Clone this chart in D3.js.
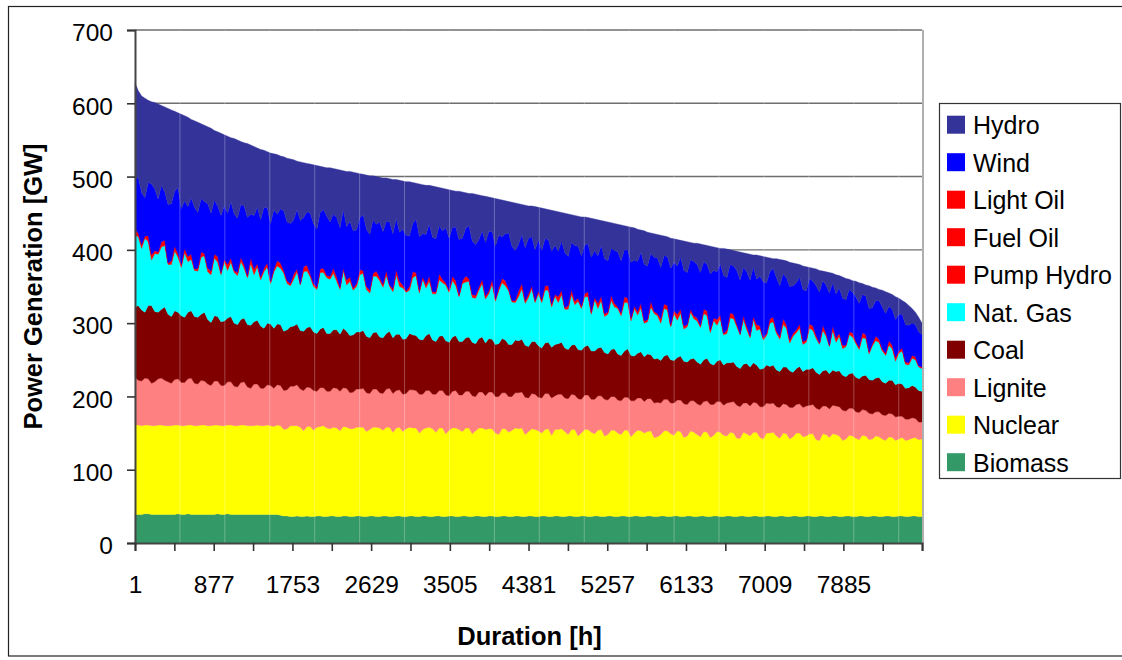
<!DOCTYPE html>
<html>
<head>
<meta charset="utf-8">
<script src="https://cdn.jsdelivr.net/npm/d3@7"></script>
<style>
  html, body { margin: 0; padding: 0; background: #fff; }
  svg { display: block; font-family: "Liberation Sans", Arial, sans-serif; }
</style>
</head>
<body>
<svg id="chart" width="1122" height="660"></svg>
<script>
// Hourly generation by fuel, sorted as a load duration curve (GW), sampled across the year
const seriesNames  = ["Biomass", "Nuclear", "Lignite", "Coal", "Nat. Gas", "Pump Hydro", "Fuel Oil", "Light Oil", "Wind", "Hydro"];
const seriesColors = ["#339966", "#FFFF00", "#FF8080", "#800000", "#00FFFF", "#FF0000", "#FF0000", "#FF0000", "#0000FF", "#333399"];
const legendOrder  = ["Hydro", "Wind", "Light Oil", "Fuel Oil", "Pump Hydro", "Nat. Gas", "Coal", "Lignite", "Nuclear", "Biomass"];

const biomass = [39,39,39,40,40,39,39,39,39,39, 39,39,39,40,39,39,40,39,39,39,
  39,39,39,39,39,40,39,39,40,39, 39,39,39,39,39,39,39,39,39,39,
  39,39,39,39,38,37,37,36,36,37, 36,36,37,36,36,37,37,36,36,37,
  37,36,36,37,37,36,36,37,37,36, 36,37,37,36,36,37,37,36,36,37,
  37,36,36,37,37,36,36,37,37,36, 36,37,37,36,36,37,37,36,36,37,
  37,36,36,37,37,36,36,37,37,36, 36,37,37,36,36,37,37,36,36,37,
  37,36,36,37,37,36,36,37,37,36, 36,37,37,36,36,37,37,36,36,37,
  37,36,36,37,37,36,36,37,37,36, 36,37,37,36,36,37,37,36,36,37,
  37,36,36,37,37,36,36,37,37,36, 36,37,37,36,36,37,37,36,36,37,
  37,36,36,37,37,36,36,37,37,36, 36,37,37,36,36,37,37,36,36,37,
  37,36,36,37,37,36,36,37,37,36, 36,37,37,36,36,37,37,36,36,37,
  37,36,36,37,37,36,36,37,37,36, 36,37,37,36,36,37,37,36,36];

const nuclear = [122,122,121,121,121,121,121,122,122,121, 121,121,122,121,121,121,121,122,121,121,
  122,122,121,121,122,121,121,121,121,122, 121,121,122,122,121,121,121,122,121,121,
  122,121,120,122,122,118,119,124,124,123, 122,117,122,123,118,121,122,124,121,119,
  121,121,117,122,121,120,120,121,121,122, 116,118,121,122,121,117,121,122,115,120,
  121,116,120,121,120,121,114,118,120,122, 120,114,120,121,113,117,120,121,119,115,
  120,121,113,116,120,121,119,119,119,114, 112,119,119,115,118,120,119,121,112,115,
  119,119,117,113,118,120,111,118,118,120, 116,111,118,119,110,113,118,119,115,112,
  117,119,110,111,117,118,114,111,117,118, 109,113,117,117,114,115,116,108,109,111,
  116,117,113,110,116,116,108,109,116,115, 112,108,115,115,108,110,115,115,111,109,
  114,114,107,106,114,113,110,114,114,108, 106,113,113,115,110,106,113,113,106,108,
  113,114,109,109,112,113,105,103,112,112, 108,112,111,110,104,105,110,110,107,104,
  110,110,105,105,109,109,106,103,108,108, 104,105,107,104,105,106,107,105,106];

const lignite = [65,61,61,64,63,58,60,63,64,62, 60,58,62,63,59,59,63,64,58,57,
  61,60,57,55,60,60,55,55,59,59, 54,53,58,59,53,51,57,56,51,51,
  55,55,52,55,55,53,53,54,54,56, 52,55,54,53,54,49,53,52,50,51,
  54,54,54,53,53,49,50,52,52,53, 53,49,52,52,48,50,52,53,53,51,
  51,51,48,51,52,51,53,48,51,50, 47,52,51,51,53,47,50,51,47,50,
  50,50,52,47,49,49,46,50,50,50, 52,49,49,49,46,48,49,49,51,46,
  48,48,46,48,49,48,51,46,48,47, 46,49,48,47,51,46,47,47,45,47,
  47,46,50,47,46,46,45,46,45,45, 49,44,44,45,43,45,44,47,47,43,
  43,43,42,44,42,43,46,43,41,43, 42,43,41,43,45,42,41,42,41,45,
  41,43,45,43,40,42,41,41,40,42, 44,41,40,40,40,42,40,40,43,40,
  39,40,40,41,39,40,43,42,38,39, 39,39,39,40,41,38,37,38,36,37,
  35,35,36,34,33,34,33,34,32,32, 32,31,29,29,28,28,26,24,23];

const coal = [96,102,97,90,100,106,96,91,94,100, 92,91,94,91,91,89,91,92,91,91,
  90,94,88,86,89,88,87,88,87,89, 86,85,86,87,85,86,85,87,85,82,
  84,84,82,83,83,81,82,81,82,83, 80,81,81,83,80,79,80,82,79,79,
  79,80,78,81,78,78,78,78,78,79, 77,76,77,78,76,76,76,78,76,77,
  76,75,75,77,75,75,75,74,75,78, 74,72,74,75,74,73,74,75,73,73,
  73,74,73,72,73,75,72,73,72,71, 72,74,72,71,71,72,71,72,71,70,
  71,72,70,68,69,70,69,70,69,71, 68,67,67,69,67,67,66,68,66,66,
  65,66,64,63,64,65,63,62,63,66, 62,61,61,63,61,61,60,60,60,58,
  59,61,59,58,58,60,58,58,57,58, 57,56,57,58,56,54,55,57,55,55,
  54,54,53,52,53,54,53,54,52,51, 52,52,51,52,50,49,50,51,50,48,
  49,51,49,50,49,50,49,48,48,49, 48,48,47,49,48,47,47,48,47,46,
  46,48,46,46,46,47,45,44,45,46, 44,45,44,42,43,44,43,43,42];

const natGas = [98,94,84,101,87,62,79,79,85,84, 68,71,81,75,66,88,69,70,63,63,
  78,77,65,65,79,74,64,81,65,74, 69,67,79,68,64,84,64,73,63,77,
  77,55,77,79,77,79,63,56,64,71, 62,81,77,68,62,60,77,75,76,74,
  77,66,61,79,63,74,61,62,78,78, 64,61,77,76,77,69,79,61,63,81,
  65,70,63,59,78,82,63,83,65,71, 63,65,77,72,76,68,77,68,61,79,
  76,76,61,62,66,73,60,61,75,59, 72,76,74,73,58,51,60,69,57,67,
  72,53,71,62,72,71,55,66,56,65, 53,55,69,54,66,57,68,66,50,70,
  54,64,49,54,67,57,62,54,66,63, 47,65,52,60,46,44,65,62,58,51,
  65,61,45,64,51,59,44,48,64,54, 56,50,63,58,42,61,49,56,41,40,
  61,59,54,46,61,46,40,59,47,55, 39,40,59,59,50,44,58,53,38,49,
  49,52,37,37,56,51,46,41,55,46, 37,54,40,47,36,41,53,49,46,40,
  52,50,35,47,51,48,42,38,48,43, 32,41,45,33,31,37,37,32,31];

const pumpHydro = [6,4,4,2,7,5,3,3,5,6, 2,4,6,3,3,5,5,6,2,3,
  6,2,3,4,5,6,2,3,6,5, 3,2,5,4,2,6,6,3,3,4,
  5,2,2,5,6,3,3,2,5,4, 2,5,6,3,3,2,4,5,2,3,
  5,4,3,2,6,5,2,3,5,4, 3,2,4,6,2,3,6,2,3,5,
  5,3,2,4,6,3,3,2,4,5, 2,3,6,4,3,2,5,5,2,3,
  6,4,3,2,4,5,2,3,6,2, 3,4,5,3,2,2,6,5,3,4,
  4,2,2,3,5,4,3,2,6,5, 2,3,5,4,3,2,4,5,2,3,
  6,4,3,2,5,4,2,3,6,5, 3,2,4,4,2,3,6,2,3,4,
  5,5,2,3,6,4,3,2,4,3, 2,3,5,5,3,2,6,4,2,3,
  5,5,3,2,4,3,2,4,6,3, 3,2,5,4,2,3,6,4,3,2,
  4,5,2,3,5,4,3,2,5,3, 2,4,5,3,3,2,4,4,2,3,
  5,4,3,2,4,3,2,2,5,3, 3,3,4,2,2,3,3,2,2];

const fuelOil = [1,0,1,1,0,1,1,0,1,1, 0,0,1,1,0,1,1,0,0,1,
  1,0,1,1,0,1,1,0,1,1, 0,1,1,0,0,1,1,1,1,0,
  0,1,1,1,1,0,0,1,1,0, 0,1,1,0,1,1,0,1,1,0,
  1,1,0,1,1,0,0,1,1,0, 1,1,0,1,1,0,1,0,0,1,
  1,1,0,0,1,1,1,0,0,1, 1,0,1,1,0,0,1,1,0,1,
  1,0,1,1,0,1,1,0,1,1, 0,1,1,0,0,1,1,1,1,0,
  0,1,1,0,1,1,0,0,1,1, 0,1,1,0,1,1,0,1,1,0,
  1,1,0,1,1,0,0,1,1,1, 1,0,0,1,1,0,1,1,0,1,
  1,0,0,1,1,0,1,1,0,0, 1,0,1,1,0,1,1,0,0,1,
  1,1,1,0,0,1,1,0,1,1, 0,0,1,1,0,1,1,0,1,1,
  0,1,1,0,1,1,0,0,1,1, 0,1,1,0,1,0,0,1,1,0,
  1,0,0,1,1,0,0,1,1,1, 1,0,0,1,1,0,0,0,0];

const lightOil = [1,1,0,0,1,1,0,0,1,0, 0,1,0,1,1,0,1,1,0,0,
  0,1,1,0,0,1,0,0,1,0, 0,1,0,1,1,1,1,0,0,1,
  0,0,1,1,0,1,1,0,1,0, 0,1,1,1,0,0,1,0,0,1,
  1,1,0,0,0,1,1,0,1,0, 0,1,0,0,1,1,0,0,1,1,
  1,0,0,1,1,0,0,1,1,1, 0,0,1,0,0,1,0,1,1,0,
  1,0,0,1,0,0,1,1,0,0, 1,1,1,0,0,0,1,1,0,1,
  0,0,1,1,0,1,1,0,1,0, 0,1,1,1,0,0,0,1,1,0,
  0,1,1,0,1,1,0,0,1,0, 0,1,1,1,0,0,1,0,0,1,
  0,1,1,0,1,1,0,0,0,1, 1,0,0,1,1,0,1,1,0,1,
  1,0,0,0,1,1,0,0,1,0, 0,1,0,1,1,0,1,1,0,1,
  0,0,1,0,0,1,1,0,1,0, 0,1,0,1,1,0,0,1,0,0,
  1,1,0,0,1,1,1,0,0,1, 1,0,0,0,0,1,1,0,0];

const wind = [69,76,71,52,73,97,84,72,77,66, 80,78,75,90,76,65,68,77,84,76,
  73,71,88,79,74,69,78,73,70,77, 77,74,72,80,79,60,73,77,78,83,
  75,79,81,64,74,81,80,82,74,81, 86,67,73,83,82,79,77,80,81,74,
  74,81,81,80,73,76,78,73,71,76, 78,76,73,64,76,72,67,86,75,70,
  67,76,76,69,66,73,73,59,68,71, 74,72,66,66,75,71,67,73,75,58,
  65,72,73,69,65,66,73,81,65,72, 72,57,64,76,74,68,64,67,72,76,
  67,69,70,67,64,63,72,67,62,67, 75,67,64,76,71,69,67,65,74,64,
  65,69,75,70,64,72,75,71,64,66, 76,63,68,70,77,73,65,74,76,70,
  66,67,77,66,66,71,76,71,68,74, 73,72,65,63,76,65,65,70,79,71,
  66,66,73,73,66,74,76,68,62,68, 76,69,64,67,73,69,61,64,73,65,
  64,64,71,67,62,61,68,69,61,66, 71,59,60,62,64,62,58,55,61,60,
  52,53,59,49,49,53,57,54,47,49, 52,50,46,51,51,44,44,46,45];

const hydro = [131,118,132,136,112,112,118,130,109,116, 131,128,109,102,129,116,122,107,118,123,
  102,104,105,116,95,101,112,97,105,87, 103,107,86,86,101,94,94,81,96,78,
  77,96,76,81,72,74,87,88,82,66, 80,75,66,67,80,87,63,58,66,74,
  62,66,79,53,75,68,80,78,60,55, 74,80,60,65,61,73,59,59,74,53,
  71,66,73,74,56,49,72,67,67,53, 70,71,52,58,53,66,50,49,66,63,
  49,44,65,69,61,48,63,47,46,65, 49,50,45,43,60,65,55,41,58,44,
  42,59,44,58,41,41,56,47,54,39, 54,58,38,41,41,53,38,36,53,43,
  49,34,51,53,35,37,38,49,33,32, 48,44,44,30,46,46,28,32,32,44,
  27,27,41,32,36,23,40,42,23,25, 29,39,23,26,38,32,33,21,37,39,
  20,21,26,38,20,25,35,16,33,28, 35,35,19,13,26,36,19,23,33,31,
  26,17,32,33,15,18,23,30,13,18, 28,13,26,17,29,29,14,16,21,28,
  15,15,31,28,17,15,23,30,18,20, 31,22,19,30,27,20,17,20,15];

const yTickValues  = [0, 100, 200, 300, 400, 500, 600, 700];
const xTickHours   = [1, 439, 877, 1315, 1753, 2191, 2629, 3067, 3505, 3943, 4381,
                      4819, 5257, 5695, 6133, 6571, 7009, 7447, 7885, 8323, 8761];
const xLabelHours  = [1, 877, 1753, 2629, 3505, 4381, 5257, 6133, 7009, 7885];
const seamHours    = [501, 1001, 1501, 2001, 2501, 3001, 3501, 4001, 4501, 5001,
                      5501, 6001, 6501, 7001, 7501, 8001, 8501];

const seriesData = {
  "Biomass": biomass, "Nuclear": nuclear, "Lignite": lignite, "Coal": coal,
  "Nat. Gas": natGas, "Pump Hydro": pumpHydro, "Fuel Oil": fuelOil,
  "Light Oil": lightOil, "Wind": wind, "Hydro": hydro
};
const colorOf = Object.fromEntries(seriesNames.map((n, i) => [n, seriesColors[i]]));

// sample positions spread evenly over the 8760 hours of the year
const nSamples = biomass.length;
const sampleHours = d3.range(nSamples).map(i => 1 + i * 8759 / (nSamples - 1));
const table = sampleHours.map((h, i) => {
  const row = { hour: h };
  seriesNames.forEach(n => { row[n] = seriesData[n][i]; });
  return row;
});

const plot = { left: 135, right: 922, top: 30, bottom: 543 };
const svg = d3.select("#chart");

const x = d3.scaleLinear().domain([1, 8760]).range([plot.left, plot.right]);
const y = d3.scaleLinear().domain([0, 700]).range([plot.bottom, plot.top]);

// outer chart frame
svg.append("rect")
  .attr("x", 8.5).attr("y", 6.5).attr("width", 1200).attr("height", 649.5)
  .attr("fill", "none").attr("stroke", "#222").attr("stroke-width", 1.2);

// horizontal gridlines
svg.append("g").selectAll("line")
  .data(yTickValues.filter(v => v > 0))
  .join("line")
  .attr("x1", plot.left).attr("x2", plot.right)
  .attr("y1", d => y(d)).attr("y2", d => y(d))
  .attr("stroke", "#6e6e6e").attr("stroke-width", 1.4);

// stacked areas
const stacked = d3.stack().keys(seriesNames)(table);
const area = d3.area()
  .x(d => x(d.data.hour))
  .y0(d => y(d[0]))
  .y1(d => y(d[1]));

svg.append("g").selectAll("path")
  .data(stacked)
  .join("path")
  .attr("d", area)
  .attr("fill", d => colorOf[d.key])
  .attr("stroke", d => colorOf[d.key])
  .attr("stroke-width", 0.4);

// faint vertical seams across the filled region
svg.append("g").selectAll("line")
  .data(seamHours)
  .join("line")
  .attr("x1", d => x(d)).attr("x2", d => x(d))
  .attr("y1", plot.top).attr("y2", plot.bottom)
  .attr("stroke", "#fff").attr("stroke-opacity", 0.28).attr("stroke-width", 1);

// plot area right border
svg.append("line")
  .attr("x1", plot.right + 1).attr("x2", plot.right + 1)
  .attr("y1", plot.top).attr("y2", plot.bottom)
  .attr("stroke", "#b0b0b0").attr("stroke-width", 2);

// y axis
const yAxis = d3.axisLeft(y).tickValues(yTickValues).tickSize(8).tickPadding(14);
const gy = svg.append("g").attr("transform", `translate(${plot.left},0)`).call(yAxis);
gy.select(".domain").attr("stroke", "#444").attr("stroke-width", 2);
gy.selectAll(".tick line").attr("stroke", "#333").attr("stroke-width", 1.6);
gy.selectAll(".tick text")
  .attr("font-size", "24.5px").attr("fill", "#000").attr("dy", "0.44em")
  .style("font-family", '"Liberation Sans", Arial, sans-serif');

// x axis
const labelSet = new Set(xLabelHours);
const xAxis = d3.axisBottom(x).tickValues(xTickHours).tickSize(8).tickPadding(24.6)
  .tickFormat(d => labelSet.has(d) ? String(d) : "");
const gx = svg.append("g").attr("transform", `translate(0,${plot.bottom})`).call(xAxis);
gx.select(".domain").attr("stroke", "#444").attr("stroke-width", 2);
gx.selectAll(".tick line").attr("stroke", "#333").attr("stroke-width", 1.6);
gx.selectAll(".tick text")
  .attr("font-size", "24.5px").attr("fill", "#000")
  .style("font-family", '"Liberation Sans", Arial, sans-serif');

// axis titles
svg.append("text")
  .attr("transform", `translate(42,${(plot.top + plot.bottom) / 2}) rotate(-90)`)
  .attr("text-anchor", "middle")
  .attr("font-size", "25.5px").attr("font-weight", "bold")
  .text("Power Generation [GW]");

svg.append("text")
  .attr("x", (plot.left + plot.right) / 2 + 1).attr("y", 645)
  .attr("text-anchor", "middle")
  .attr("font-size", "25.5px").attr("font-weight", "bold")
  .text("Duration [h]");

// legend
const legend = svg.append("g");
legend.append("rect")
  .attr("x", 939.5).attr("y", 103.5).attr("width", 181).attr("height", 375)
  .attr("fill", "#fff").attr("stroke", "#333").attr("stroke-width", 1.2);
const rows = legend.selectAll("g.row")
  .data(legendOrder)
  .join("g")
  .attr("class", "row")
  .attr("transform", (d, i) => `translate(0,${124.7 + i * 37.5})`);
rows.append("rect")
  .attr("x", 947).attr("y", -9).attr("width", 18).attr("height", 18)
  .attr("fill", d => colorOf[d]);
rows.append("text")
  .attr("x", 973).attr("y", 9.5)
  .attr("font-size", "25px").attr("fill", "#000")
  .text(d => d);
</script>
</body>
</html>
